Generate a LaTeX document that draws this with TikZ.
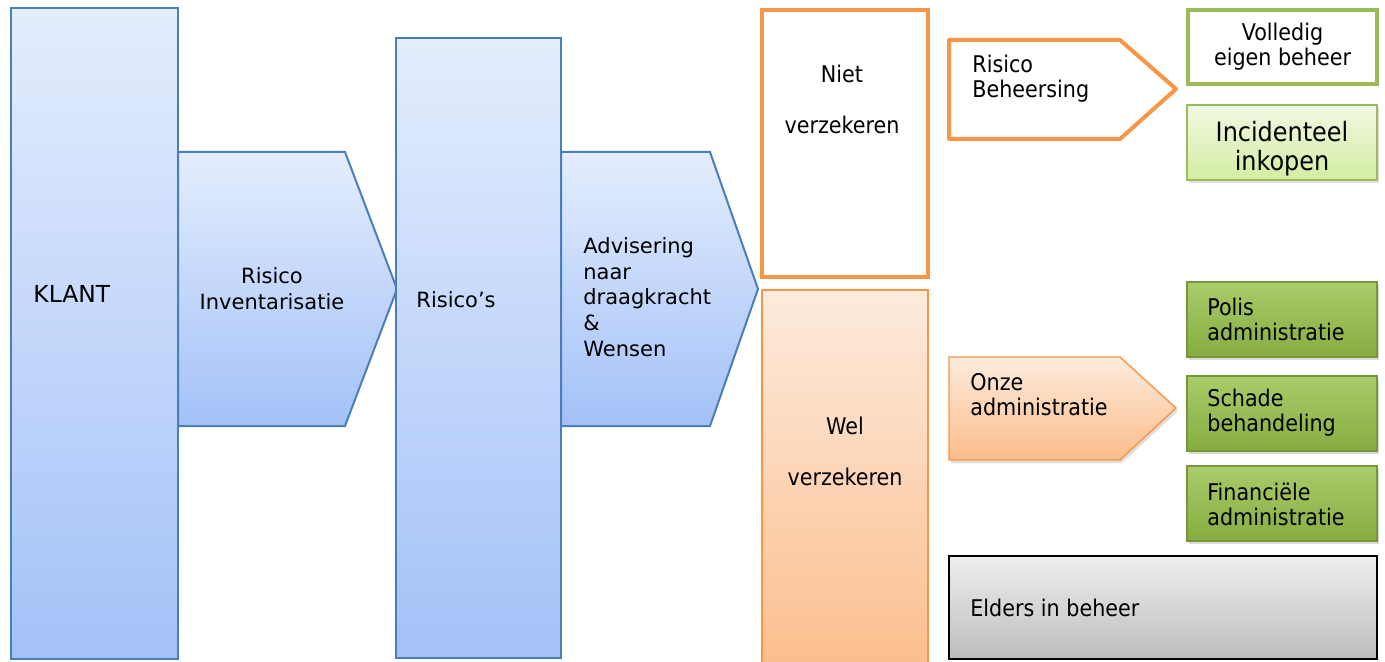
\documentclass[tikz,border=0pt]{standalone}
\usepackage{fontspec}
\setmainfont{DejaVu Sans}
\newfontfamily\narrowsans{DejaVu Sans Condensed}
\usetikzlibrary{fit,shadows}

\definecolor{blueline}{HTML}{4A7EBB}
\definecolor{bluetop}{HTML}{E4EDFD}
\definecolor{bluebot}{HTML}{A3C1F8}
\definecolor{orangeline}{HTML}{F79646}
\definecolor{peachtop}{HTML}{FDEBDD}
\definecolor{peachbot}{HTML}{FBBD8B}
\definecolor{greenline}{HTML}{9BBB59}
\definecolor{palegreentop}{HTML}{F1F9E3}
\definecolor{palegreenbot}{HTML}{D3EDA1}
\definecolor{darkgreentop}{HTML}{AACC6B}
\definecolor{darkgreenbot}{HTML}{86AC40}
\definecolor{darkgreenline}{HTML}{76963A}
\definecolor{greytop}{HTML}{EEEEEE}
\definecolor{greybot}{HTML}{BDBDBD}

\begin{document}
\begin{tikzpicture}[
        x=0.5pt, y=-0.5pt,
        bluebox/.style={draw=blueline, line width=1pt, top color=bluetop, bottom color=bluebot},
        emptybox/.style={draw=orangeline, line width=2pt, fill=white},
        peachbox/.style={draw=orangeline, line width=0.7pt, top color=peachtop, bottom color=peachbot},
        outlinegreen/.style={draw=greenline, line width=2pt, fill=white, inner sep=0pt},
        palegreen/.style={draw=greenline, line width=0.7pt, top color=palegreentop, bottom color=palegreenbot, inner sep=0pt,
            drop shadow={opacity=0.25, shadow xshift=1pt, shadow yshift=-1.5pt}},
        darkgreen/.style={draw=darkgreenline, line width=0.7pt, top color=darkgreentop, bottom color=darkgreenbot, inner sep=0pt,
            drop shadow={opacity=0.3, shadow xshift=1pt, shadow yshift=-1.5pt}},
        greybox/.style={draw=black, line width=1pt, top color=greytop, bottom color=greybot, inner sep=0pt},
        widetext/.style={inner sep=0pt, text=black, font=\fontsize{10.5}{12.9}\selectfont},
        narrowtext/.style={inner sep=0pt, text=black, font=\narrowsans\fontsize{11.5}{12.5}\selectfont},
]
        \useasboundingbox (0,0) rectangle (1385,662);

        % blue chain
        \node[bluebox, inner sep=0pt, fit={(11,8) (178,659)}] (klant) {};
        \draw[bluebox] (178,152) -- (345,152) -- (397,289) -- (345,426) -- (178,426) -- cycle;
        \node[bluebox, inner sep=0pt, fit={(396,38) (561,658)}] (risicos) {};
        \draw[bluebox] (561,152) -- (710,152) -- (758,289) -- (710,426) -- (561,426) -- cycle;

        \node[widetext, anchor=west, font=\fontsize{11.7}{14}\selectfont] (klanttext) at (33,294) {KLANT};
        \node[widetext, align=center] (inventtext) at (272,289) {Risico\\Inventarisatie};
        \node[widetext, anchor=west] (risicostext) at (416,300) {Risico’s};
        \node[widetext, anchor=west, align=left] (advistext) at (583,297) {Advisering\\naar\\draagkracht\\\&\\Wensen};

        % verzekeren
        \node[emptybox, inner sep=0pt, fit={(762,10) (928,277)}] (niet) {};
        \node[peachbox, inner sep=0pt, fit={(762,290) (928,680)}] (wel) {};
        \node[narrowtext, align=center] (niettext) at (842,99) {Niet\\[13pt]verzekeren};
        \node[narrowtext, align=center] (weltext) at (845,451) {Wel\\[13pt]verzekeren};

        % beheersing
        \draw[emptybox, line join=round] (949,40) -- (1120,40) -- (1176,89) -- (1120,139) -- (949,139) -- cycle;
        \node[narrowtext, anchor=west, align=left] (beheertext) at (972,79) {Risico\\Beheersing};
        \node[outlinegreen, fit={(1188,10) (1377,84)}] (volledig) {};
        \node[narrowtext, align=center] (volledigtext) at (volledig) {Volledig\\eigen beheer};
        \node[palegreen, fit={(1187,105) (1377,180)}] (incident) {};
        \node[narrowtext, align=center, font=\narrowsans\fontsize{13.3}{14.5}\selectfont] (incidenttext) at (1282,149) {Incidenteel\\inkopen};

        % administratie
        \draw[peachbox, drop shadow={opacity=0.25, shadow xshift=1pt, shadow yshift=-1.5pt}]
            (949,357) -- (1120,357) -- (1176,408) -- (1120,460) -- (949,460) -- cycle;
        \node[narrowtext, anchor=west, align=left] (onzetext) at (970,395) {Onze\\administratie};
        \node[darkgreen, fit={(1187,282) (1377,357)}] (polis) {};
        \node[darkgreen, fit={(1187,376) (1377,451)}] (schade) {};
        \node[darkgreen, fit={(1187,466) (1377,541)}] (financieel) {};
        \node[narrowtext, anchor=west, align=left] (polistext) at (1207,319) {Polis\\administratie};
        \node[narrowtext, anchor=west, align=left] (schadetext) at (1207,413) {Schade\\behandeling};
        \node[narrowtext, anchor=west, align=left] (financieeltext) at (1207,504) {Financiële\\administratie};

        \node[greybox, fit={(949,556) (1377,659)}] (elders) {};
        \node[narrowtext, anchor=west] (elderstext) at (970,608) {Elders in beheer};
\end{tikzpicture}
\end{document}
